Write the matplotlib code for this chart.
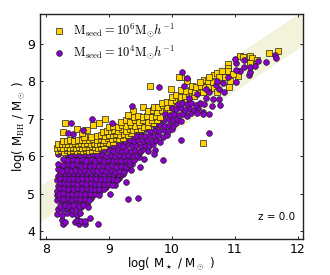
import numpy as np
import matplotlib
matplotlib.use("Agg")
import matplotlib.pyplot as plt

band_x = [7.9, 12.1]
band_low = [4.24, 8.97]
band_high = [5.2, 9.9]

# points: (log Mstar, log MBH)
purple_low = [
    (8.28, 4.2), (8.47, 4.23), (8.53, 4.19), (8.6, 4.24), (8.62, 4.19), (8.83, 4.2), (8.26, 4.3), (8.31, 4.24),
    (8.5, 4.3), (8.56, 4.26), (8.62, 4.27), (8.7, 4.36), (8.18, 4.45), (8.25, 4.44), (8.33, 4.48), (8.42, 4.46),
    (8.49, 4.44), (8.55, 4.49), (8.19, 4.6), (8.26, 4.58), (8.33, 4.62), (8.41, 4.57), (8.48, 4.6), (8.56, 4.63),
    (8.18, 4.83), (8.25, 4.78), (8.31, 4.76), (8.38, 4.8), (8.45, 4.76), (8.52, 4.8), (8.6, 4.78), (8.66, 4.72),
    (8.17, 4.95), (8.24, 4.92), (8.3, 4.96), (8.37, 4.93), (8.44, 4.9), (8.5, 4.95), (8.57, 4.91), (8.64, 4.94), (8.71, 4.88),
    (8.75, 4.95), (8.18, 5.08), (8.25, 5.05), (8.32, 5.09), (8.39, 5.06), (8.46, 5.04), (8.53, 5.08), (8.6, 5.05),
    (8.67, 5.08), (8.74, 5.04), (8.81, 5.03), (8.86, 5.08), (8.19, 5.2), (8.26, 5.22), (8.33, 5.18), (8.4, 5.21),
    (8.47, 5.18), (8.54, 5.22), (8.61, 5.18), (8.68, 5.21), (8.75, 5.17), (8.82, 5.2), (8.89, 5.17), (8.96, 5.18),
    (8.18, 5.35), (8.25, 5.33), (8.32, 5.36), (8.39, 5.32), (8.46, 5.35), (8.53, 5.31), (8.6, 5.35), (8.67, 5.32),
    (8.74, 5.35), (8.81, 5.31), (8.88, 5.34), (8.95, 5.3), (9.02, 5.33), (9.08, 5.3), (8.2, 5.47), (8.27, 5.49),
    (8.34, 5.45), (8.41, 5.48), (8.48, 5.45), (8.55, 5.49), (8.62, 5.45), (8.69, 5.48), (8.76, 5.44), (8.83, 5.48),
    (8.9, 5.44), (8.97, 5.47), (9.04, 5.44), (9.11, 5.46), (9.17, 5.42),
]
purple_fill = [
    (8.67, 4.65), (8.22, 4.68), (8.3, 4.7), (8.37, 4.67), (8.44, 4.7), (8.52, 4.68), (8.59, 4.7), (8.22, 4.87),
    (8.28, 4.86), (8.35, 4.87), (8.41, 4.85), (8.48, 4.87), (8.55, 4.85), (8.62, 4.86), (8.69, 4.82), (8.21, 5.0),
    (8.28, 5.01), (8.35, 5.0), (8.42, 4.99), (8.49, 5.0), (8.56, 5.0), (8.63, 5.0), (8.7, 4.98), (8.78, 5.0),
    (8.84, 4.96), (8.22, 5.14), (8.29, 5.15), (8.36, 5.13), (8.43, 5.13), (8.5, 5.14), (8.57, 5.13), (8.64, 5.14),
    (8.71, 5.13), (8.78, 5.11), (8.85, 5.13), (8.92, 5.11), (9.02, 5.0), (9.1, 5.22), (8.22, 5.28), (8.29, 5.28),
    (8.36, 5.27), (8.43, 5.28), (8.5, 5.26), (8.57, 5.27), (8.64, 5.26), (8.71, 5.27), (8.78, 5.25), (8.85, 5.26),
    (8.92, 5.25), (8.99, 5.26), (9.05, 5.22), (9.28, 5.31), (8.23, 5.41), (8.3, 5.41), (8.37, 5.4), (8.44, 5.41),
    (8.51, 5.4), (8.58, 5.42), (8.65, 5.4), (8.72, 5.41), (8.8, 5.39), (8.87, 5.4), (8.94, 5.38), (9.0, 5.39),
    (9.07, 5.38), (9.13, 5.36), (9.2, 5.5), (8.23, 5.56), (8.3, 5.56), (8.37, 5.55), (8.44, 5.55), (8.51, 5.56),
    (8.58, 5.55), (8.65, 5.55), (8.72, 5.54), (8.79, 5.55), (8.86, 5.54), (8.93, 5.53), (9.0, 5.54), (9.07, 5.53),
    (9.14, 5.52), (9.22, 5.53), (9.36, 5.63), (8.23, 5.71), (8.31, 5.7), (8.38, 5.69), (8.45, 5.7), (8.52, 5.69),
    (8.59, 5.7), (8.66, 5.69), (8.73, 5.7), (8.8, 5.68), (8.87, 5.69), (8.94, 5.68), (9.01, 5.69), (9.08, 5.67),
    (9.15, 5.68), (9.22, 5.66), (9.29, 5.67), (9.5, 5.7), (8.32, 5.85), (8.39, 5.84), (8.46, 5.85), (8.53, 5.84),
    (8.6, 5.84), (8.67, 5.84), (8.74, 5.84), (8.81, 5.83), (8.88, 5.83), (8.95, 5.82), (9.02, 5.83), (9.09, 5.81),
    (9.16, 5.81), (9.23, 5.8), (9.3, 5.82), (9.37, 5.8), (9.56, 5.92), (8.37, 5.98), (8.44, 5.98), (8.51, 5.98),
    (8.58, 5.98), (8.65, 5.97), (8.72, 5.98), (8.79, 5.96), (8.86, 5.97), (8.93, 5.96), (9.0, 5.97), (9.07, 5.95),
    (9.14, 5.96), (9.21, 5.95), (9.28, 5.96), (9.35, 5.94), (9.42, 5.96), (9.48, 5.97), (9.73, 6.16),
]
purple_mid = [
    (8.19, 5.65), (8.26, 5.61), (8.33, 5.63), (8.4, 5.6), (8.47, 5.64), (8.54, 5.6), (8.61, 5.63), (8.68, 5.59),
    (8.75, 5.63), (8.82, 5.59), (8.89, 5.62), (8.96, 5.59), (9.03, 5.62), (9.1, 5.58), (9.17, 5.6), (9.24, 5.57),
    (8.2, 5.8), (8.28, 5.76), (8.35, 5.78), (8.42, 5.75), (8.49, 5.78), (8.56, 5.74), (8.63, 5.77), (8.7, 5.74),
    (8.77, 5.77), (8.84, 5.73), (8.91, 5.76), (8.98, 5.72), (9.05, 5.75), (9.12, 5.72), (9.19, 5.74), (9.27, 5.72),
    (9.32, 5.8), (8.28, 5.93), (8.36, 5.9), (8.43, 5.92), (8.5, 5.89), (8.57, 5.92), (8.64, 5.88), (8.71, 5.91),
    (8.78, 5.88), (8.85, 5.91), (8.92, 5.87), (8.99, 5.9), (9.06, 5.87), (9.13, 5.9), (9.2, 5.87), (9.27, 5.89),
    (9.34, 5.86), (9.4, 5.9), (8.2, 6.05), (8.33, 6.05), (8.4, 6.03), (8.47, 6.06), (8.54, 6.03), (8.61, 6.06),
    (8.68, 6.02), (8.75, 6.05), (8.82, 6.02), (8.89, 6.05), (8.96, 6.01), (9.03, 6.04), (9.1, 6.01), (9.17, 6.04),
    (9.24, 6.01), (9.31, 6.03), (9.38, 6.0), (9.45, 6.03), (9.5, 6.1), (8.86, 6.15), (8.93, 6.15), (9.0, 6.17),
    (9.07, 6.14), (9.14, 6.17), (9.21, 6.14), (9.28, 6.17), (9.35, 6.14), (9.42, 6.16), (9.49, 6.14), (9.55, 6.2),
    (9.62, 6.14), (9.02, 6.3), (9.09, 6.28), (9.16, 6.31), (9.23, 6.28), (9.3, 6.31), (9.37, 6.28), (9.44, 6.3),
    (9.51, 6.27), (9.58, 6.3), (9.64, 6.27), (9.7, 6.33), (9.86, 5.9), (9.3, 4.85), (9.47, 4.87), (9.72, 6.05),
    (9.12, 6.42), (9.19, 6.44), (9.26, 6.41), (9.33, 6.44), (9.4, 6.41), (9.47, 6.43), (9.54, 6.4), (9.61, 6.43),
    (9.68, 6.4), (9.75, 6.43), (9.81, 6.38), (9.3, 6.55), (9.37, 6.57), (9.44, 6.54), (9.51, 6.56), (9.58, 6.53),
    (9.65, 6.56), (9.72, 6.53), (9.79, 6.56), (9.86, 6.52), (9.92, 6.57), (9.45, 6.7), (9.52, 6.68), (9.59, 6.71),
    (9.66, 6.68), (9.73, 6.7), (9.8, 6.67), (9.87, 6.7), (9.94, 6.67), (10.0, 6.71), (10.15, 6.44), (10.59, 6.61),
    (9.6, 6.83), (9.67, 6.85), (9.74, 6.82), (9.81, 6.84), (9.88, 6.81), (9.95, 6.84), (10.02, 6.81), (10.06, 6.87),
    (9.74, 6.97), (9.81, 6.99), (9.88, 6.96), (9.95, 6.98), (10.02, 6.95), (10.09, 6.98), (10.15, 6.94),
]
# these sit on top of the yellow squares
purple_top = [
    (8.4, 6.88), (8.35, 6.62), (8.43, 6.58), (8.59, 6.69), (8.74, 6.99), (9.05, 6.89), (9.37, 7.34), (9.8, 7.85),
    (9.9, 7.12), (9.97, 7.1), (10.04, 7.13), (10.11, 7.09), (10.18, 7.12), (10.25, 7.08), (10.3, 7.14), (10.0, 7.27),
    (10.07, 7.25), (10.14, 7.28), (10.21, 7.24), (10.28, 7.27), (10.35, 7.23), (10.42, 7.28), (10.49, 7.18), (10.49, 7.12),
    (10.4, 7.15), (10.6, 7.12), (10.64, 7.33), (10.77, 7.36), (10.66, 7.52), (10.75, 7.53), (10.1, 7.4), (10.17, 7.42),
    (10.24, 7.39), (10.31, 7.41), (10.38, 7.37), (10.45, 7.42), (10.52, 7.38), (10.4, 7.65), (10.27, 7.55), (10.55, 7.55),
    (10.6, 7.7), (10.75, 7.78), (10.83, 7.71), (10.7, 7.9), (10.72, 8.01), (10.89, 8.1), (11.02, 7.97), (10.16, 8.23),
    (10.25, 8.09), (10.19, 7.87), (11.22, 8.15), (11.24, 8.24), (11.08, 8.27), (11.02, 8.3), (11.15, 8.38), (11.24, 8.38),
    (11.33, 8.41), (11.37, 8.53), (11.15, 8.55), (11.02, 8.48), (11.01, 8.58), (11.49, 8.51), (11.64, 8.69), (11.66, 8.62),
    (10.82, 7.95), (10.55, 7.8),
]
yellow_strip = [
    (8.19, 6.13), (8.24, 6.15), (8.29, 6.12), (8.34, 6.15), (8.39, 6.13), (8.44, 6.16), (8.49, 6.13), (8.54, 6.16),
    (8.59, 6.13), (8.64, 6.16), (8.69, 6.14), (8.74, 6.17), (8.79, 6.15), (8.18, 6.22), (8.23, 6.24), (8.28, 6.21),
    (8.33, 6.24), (8.38, 6.22), (8.43, 6.25), (8.48, 6.22), (8.53, 6.25), (8.58, 6.22), (8.63, 6.25), (8.68, 6.23),
    (8.73, 6.26), (8.78, 6.24), (8.83, 6.22), (8.88, 6.25), (8.93, 6.28), (8.2, 6.32), (8.26, 6.33), (8.31, 6.31),
    (8.36, 6.33), (8.41, 6.31), (8.46, 6.34), (8.51, 6.31), (8.56, 6.34), (8.61, 6.32), (8.66, 6.34), (8.71, 6.32),
    (8.76, 6.35), (8.81, 6.33), (8.86, 6.36), (8.91, 6.34), (8.96, 6.37), (9.01, 6.35), (9.06, 6.38), (8.27, 6.41),
    (8.33, 6.4), (8.39, 6.42), (8.45, 6.41), (8.51, 6.43), (8.57, 6.42), (8.63, 6.44), (8.69, 6.42), (8.75, 6.45),
    (8.81, 6.44), (8.87, 6.46), (8.93, 6.44), (8.99, 6.47), (9.05, 6.45), (9.11, 6.47), (9.17, 6.45), (9.23, 6.48),
    (8.6, 6.5), (8.72, 6.52), (8.82, 6.53), (8.88, 6.56), (8.94, 6.54), (9.0, 6.57), (9.06, 6.55), (9.12, 6.58),
    (9.18, 6.56), (9.24, 6.59), (9.3, 6.57), (9.36, 6.62), (8.27, 6.65), (8.31, 6.89), (8.5, 6.72), (8.57, 6.61),
    (8.65, 6.7), (8.75, 6.83), (8.85, 6.89), (8.94, 6.98), (8.91, 6.65), (8.97, 6.68), (9.03, 6.66), (9.09, 6.7),
    (9.15, 6.67), (9.21, 6.71), (9.27, 6.68), (9.33, 6.72), (9.39, 6.69), (9.45, 6.72), (9.51, 6.72), (9.0, 6.78),
    (9.07, 6.8), (9.14, 6.78), (9.21, 6.82), (9.28, 6.79), (9.35, 6.83), (9.42, 6.8), (9.49, 6.83), (9.56, 6.78),
    (9.63, 6.8), (9.7, 6.88), (9.2, 6.92), (9.27, 6.95), (9.34, 6.91), (9.41, 6.96), (9.48, 6.91), (9.55, 6.95),
    (9.62, 6.9), (9.69, 6.96), (9.76, 6.95), (9.39, 7.2), (9.31, 7.1), (9.55, 7.31), (9.4, 7.05), (9.47, 7.07),
    (9.54, 7.05), (9.61, 7.08), (9.68, 7.05), (9.75, 7.07), (9.82, 7.04),
]
yellow_upper = [
    (9.63, 7.2), (9.7, 7.22), (9.77, 7.18), (9.84, 7.22), (9.91, 7.18), (9.98, 7.23), (9.72, 7.3), (9.79, 7.31),
    (9.86, 7.36), (9.93, 7.32), (10.0, 7.35), (10.07, 7.3), (9.85, 7.42), (9.92, 7.44), (9.99, 7.44), (10.06, 7.49),
    (10.13, 7.45), (10.2, 7.48), (10.0, 7.58), (10.07, 7.62), (10.14, 7.57), (10.21, 7.61), (10.28, 7.65),
    (10.35, 7.6), (9.99, 7.79), (10.15, 7.75), (10.22, 7.73), (10.3, 7.76), (10.37, 7.72), (10.44, 7.76), (10.5, 7.7),
    (10.25, 8.0), (10.15, 8.11), (10.11, 8.1), (10.32, 7.87), (10.39, 7.84), (10.46, 7.88), (10.53, 7.85), (10.6, 7.88),
    (10.67, 7.82), (10.51, 8.03), (10.45, 7.98), (10.58, 8.0), (10.65, 7.97), (10.78, 8.03), (10.72, 7.72), (10.91, 7.85),
    (10.67, 8.17), (10.72, 8.22), (10.8, 8.27), (10.89, 8.45), (10.89, 8.35), (10.89, 8.26), (10.84, 8.1), (10.93, 8.0),
    (11.03, 8.27), (11.05, 8.13), (11.08, 8.67), (11.13, 8.65), (11.25, 8.67), (11.28, 8.61), (11.24, 8.48), (11.36, 8.57),
    (11.55, 8.75), (11.69, 8.8), (9.66, 7.87), (10.5, 6.35), (10.75, 8.1), (10.6, 8.12), (10.97, 8.2),
]

legend_labels = [r"$\mathrm{M_{seed} = 10^{6} M_{\odot}}h^{-1}$", r"$\mathrm{M_{seed} = 10^{4} M_{\odot}}h^{-1}$"]
x_ticks = [8, 9, 10, 11, 12]
y_ticks = [4, 5, 6, 7, 8, 9]
purple = "#8a00c8"
yellow = "#ffd200"


def main() -> None:
    plt.rcParams["mathtext.fontset"] = "cm"
    fig = plt.figure(figsize=(3.3, 2.75), dpi=100)
    ax = fig.add_axes([39.5 / 330, 1 - 239 / 275, 263.5 / 330, 225 / 275])

    ax.fill_between(band_x, band_low, band_high, color="#f3f3dc", lw=0, zorder=1)

    p1 = np.array(purple_low + purple_fill + purple_mid)
    p2 = np.array(purple_top)
    y1 = np.array(yellow_strip + yellow_upper)
    kw = dict(s=17, linewidths=0.5, edgecolors="#222222")
    ax.scatter(p1[:, 0], p1[:, 1], c=purple, marker="o", zorder=2, **kw)
    ax.scatter(y1[:, 0], y1[:, 1], c=yellow, marker="s", zorder=3, **kw)
    ax.scatter(p2[:, 0], p2[:, 1], c=purple, marker="o", zorder=4, **kw)

    h1 = ax.scatter([], [], c=yellow, marker="s", **kw)
    h2 = ax.scatter([], [], c=purple, marker="o", **kw)
    ax.legend([h1, h2], legend_labels, loc="upper left", frameon=False, fontsize=9,
              scatterpoints=1, labelspacing=0.35, handletextpad=0.1,
              bbox_to_anchor=(0.0, 1.0), borderaxespad=0.15)

    ax.text(0.972, 0.1, "z = 0.0", transform=ax.transAxes, ha="right", va="center", fontsize=7.5)

    ax.set_xlim(7.9, 12.085)
    ax.set_ylim(3.79, 9.79)
    ax.set_xticks(x_ticks)
    ax.set_yticks(y_ticks)
    ax.tick_params(direction="in", top=True, right=True, length=2.5, width=0.6, labelsize=9, pad=3)
    for s in ax.spines.values():
        s.set_linewidth(1.0)
        s.set_color("#222222")

    ax.set_xlabel(r"log( M$_\star$ / M$_\odot$ )", fontsize=8.5, labelpad=-1)
    ax.set_ylabel(r"log( M$_{\rm BH}$ / M$_\odot$ )", fontsize=8.5, labelpad=0)

    fig.savefig("out.png", dpi=100)
    plt.close(fig)


main()
